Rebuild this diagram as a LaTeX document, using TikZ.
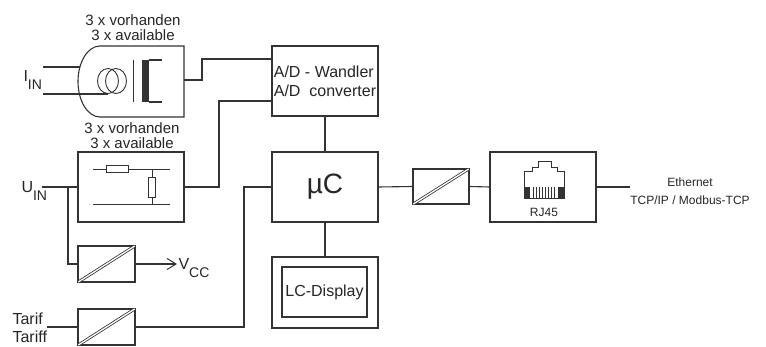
\documentclass[tikz,border=0pt]{standalone}
\usepackage{fontspec}
\setmainfont{Liberation Sans}
\usetikzlibrary{arrows.meta}
\newcommand\lowsub[3]{#1\raisebox{#3}{\fontsize{14}{14}\selectfont #2}}
\begin{document}
\begin{tikzpicture}[x=1pt,y=-1pt, line width=1.1pt, color=black!80,
  every node/.style={font=\fontsize{16}{16}\selectfont, inner sep=0pt, text=black!85},
  blk/.style={draw, minimum width=106pt, minimum height=70pt},
  conv/.style={draw, minimum width=57pt, minimum height=36pt},
  thin/.style={line width=0.9pt},
  twoline/.style={align=center, font=\fontsize{15}{15}\selectfont},
  diag/.style={double, double distance=1.3pt, line width=0.8pt, shorten <=1pt, shorten >=1pt}]
\fill[white] (0,0) rectangle (766,347);
\useasboundingbox (0,0) rectangle (766,347);

% current transformer
\draw (184,46) -- (100,46) .. controls (87.85,46) and (78,61.9) .. (78,81.5)
      .. controls (78,101.1) and (87.85,117) .. (100,117) -- (184,117) -- cycle;
\draw[thin] (108,81) ellipse [x radius=10.5, y radius=12.5];
\draw[thin] (116,81) ellipse [x radius=10.5, y radius=12.5];
\draw[thin] (133,60) -- (133,102);
\fill (142,60) rectangle (149,102);
\draw (149,60) -- (162,60) (149,102) -- (162,102);
\node[twoline] (ctlab) at (133,28) {3 x vorhanden\\3 x available};
\node[anchor=base west] (iinlab) at (23,82) {\lowsub{I}{IN}{-8pt}};
\coordinate (iin1) at (43,67);
\coordinate (iin2) at (43,94);
\coordinate (ctin1) at (80,67);
\coordinate (ctin2) at (108,94);
\draw (iin1) -- (ctin1);
\draw (iin2) -- (ctin2);
\coordinate (ctout) at (184,80);

% A/D converter
\node[blk, align=left, font=\fontsize{16}{19}\selectfont] (ad) at (325,81) {A/D - Wandler\\A/D\ \ converter};
\draw (ctout) -- (202,80) |- ([yshift=22pt]ad.west);

% filter
\node[blk] (filt) at (131,187) {};
\node[twoline] (flab) at (132,136) {3 x vorhanden\\3 x available};
\draw[thin] (93,169) -- (106,169) (128,169) -- (170,169);
\draw[thin] (106,165.5) rectangle (128,172.5);
\draw[thin] (152,169) -- (152,177) (152,197) -- (152,204);
\draw[thin] (148.5,177) rectangle (155.5,197);
\draw[thin] (93,204) -- (170,204);
\draw (filt.east) -- (219,187) |- ([yshift=-20pt]ad.west);

% U_IN
\node[anchor=base west] (uinlab) at (21,193) {\lowsub{U}{IN}{-8pt}};
\coordinate (uin) at (42,187);
\coordinate (br) at (68,187);
\draw (uin) -- (filt.west);
\node[conv] (c1) at (106.5,264) {};
\draw[diag] (c1.south west) -- (c1.north east);
\draw (br) |- (c1.west);
\coordinate (vcc) at (177,264);
\draw[-{Straight Barb[length=9pt,width=11pt,line width=1pt]}] (c1.east) -- (vcc);
\node[anchor=base west] (vcclab) at (178,270) {\lowsub{V}{CC}{-8pt}};

% Tarif
\node[conv] (c3) at (106.5,327) {};
\draw[diag] (c3.south west) -- (c3.north east);
\node[align=left, anchor=west, font=\fontsize{16}{18}\selectfont] (tlab) at (12,327.5) {Tarif\\Tariff};
\coordinate (tin) at (47,327);
\draw (tin) -- (c3.west);

% microcontroller
\node[blk, font=\fontsize{28}{30}\selectfont] (uc) at (325,187) {µC};
\draw (ad.south) -- (uc.north);
\draw (c3.east) -- (244,327) |- (uc.west);

% LC display
\node[blk, minimum height=71pt] (lcdo) at (325,292.5) {};
\node[draw, minimum width=85pt, minimum height=50pt] (lcd) at (324.5,292) {LC-Display};
\draw (uc.south) -- (lcdo.north);

% converter 2
\node[draw, minimum width=56pt, minimum height=35pt] (c2) at (441,186.5) {};
\draw[diag] (c2.south west) -- (c2.north east);
\draw (uc.east) -- (c2.west);

% RJ45
\node[blk] (rj) at (543,187) {};
\draw (c2.east) -- (rj.west);
\draw[thin] (524,198) -- (524,171) -- (532,171) -- (532,167) -- (538,167) -- (538,161)
  -- (551,161) -- (551,167) -- (557,167) -- (557,171) -- (564,171) -- (564,198) -- cycle;
\fill (524,187) rectangle (530,198);
\fill (558,187) rectangle (564,198);
\foreach \px in {533,536,...,555} \draw[line width=0.6pt] (\px,187) -- (\px,198);
\node[font=\fontsize{12}{12}\selectfont] (rjlab) at (544,212) {RJ45};
\coordinate (eth) at (630,187);
\draw (rj.east) -- (eth);
\node[align=center, font=\fontsize{12}{18}\selectfont] (ethlab) at (690,191) {Ethernet\\TCP/IP / Modbus-TCP};
\end{tikzpicture}
\end{document}
